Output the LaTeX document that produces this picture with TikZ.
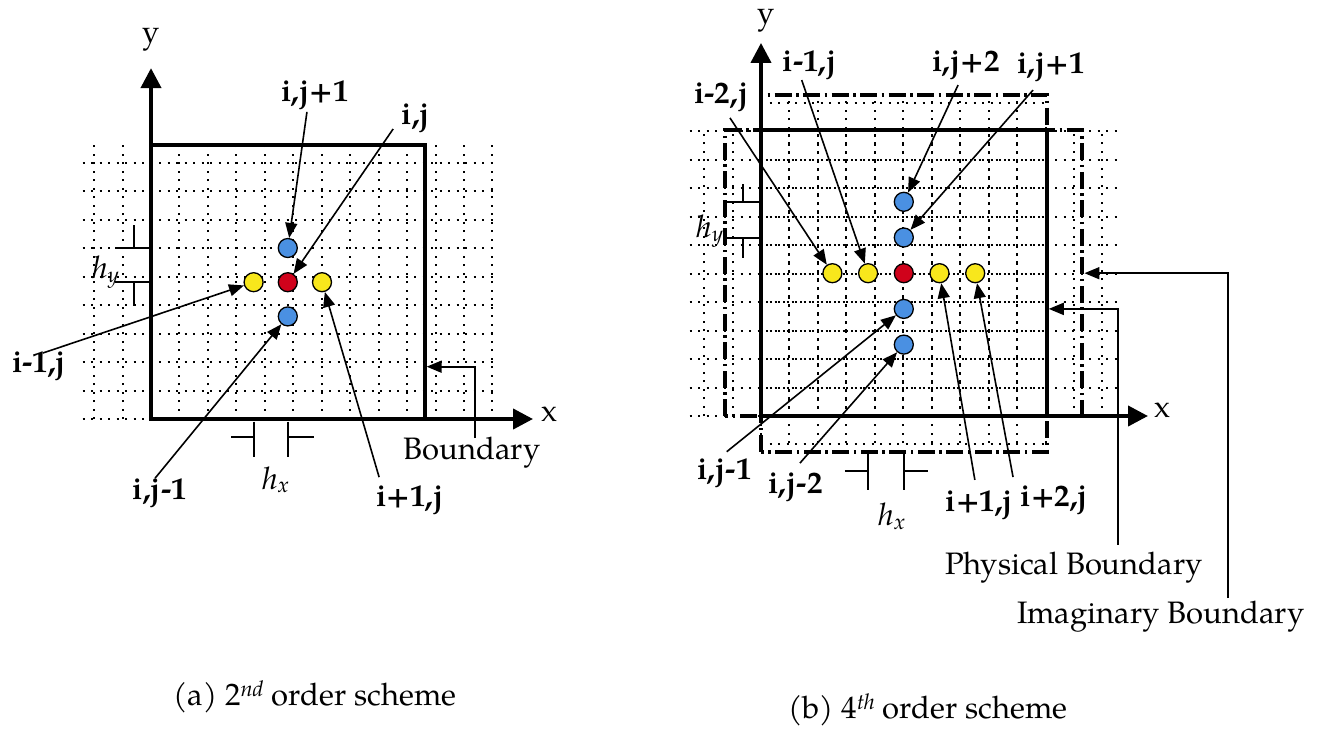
\documentclass[tikz,border=0pt]{standalone}
\usepackage{fontspec}
\setmainfont{texgyrepagella}[Extension=.otf,UprightFont=*-regular,BoldFont=*-bold,ItalicFont=*-italic,BoldItalicFont=*-bolditalic]
\usetikzlibrary{arrows.meta}
\definecolor{ptblue}{RGB}{74,144,226}
\definecolor{ptred}{RGB}{208,2,27}
\definecolor{ptyellow}{RGB}{248,231,28}
\newcommand\lblfont{\fontsize{31}{36}\selectfont}
\tikzset{
 gridl/.style={line width=2pt, dash pattern=on 2pt off 6.5pt},
 axisarrow/.style={line width=4pt, {Triangle[length=20pt,width=20pt]}-{Triangle[length=20pt,width=20pt]}},
 wallline/.style={line width=4pt},
 imag/.style={line width=4pt, dash pattern=on 17pt off 4.5pt on 2.5pt off 4.5pt},
 ptr/.style={line width=1.6pt, -{Triangle[length=15pt,width=12pt]}},
 bptr/.style={line width=1.8pt, -{Triangle[length=15pt,width=12pt]}},
 hmark/.style={line width=2pt},
 dotnode/.style={circle, draw=black, line width=1.3pt, minimum size=19pt, inner sep=0pt},
 lbl/.style={font=\lblfont\bfseries, inner sep=0pt},
 txt/.style={font=\lblfont, inner sep=0pt},
}
\begin{document}
\begin{tikzpicture}[x=1pt,y=-1pt]
\useasboundingbox (0,0) rectangle (1341,731);
% ---------------- left: 2nd order ----------------
\begin{scope}[shift={(151pt,-419pt)}, x=34.2pt, y=34.2pt]
 \draw[gridl] (-2,0) grid (10,8);
 \draw[wallline] (0,8) -- (8,8) -- (8,0);
 \coordinate (LyT) at (0,10.26);
 \coordinate (LO) at (0,0);
 \coordinate (LxT) at (11.17,0);
 \draw[axisarrow] (LyT) -- (LO) -- (LxT);
 \node[txt] (Lylab) at (0,11.08) {y};
 \node[txt] (Lxlab) at (11.64,0.15) {x};
 \node[dotnode, fill=ptred] (Lc) at (4,4) {};
 \node[dotnode, fill=ptblue] (Ln) at (4,5) {};
 \node[dotnode, fill=ptblue] (Ls) at (4,3) {};
 \node[dotnode, fill=ptyellow] (Lw) at (3,4) {};
 \node[dotnode, fill=ptyellow] (Le) at (5,4) {};
 % labels
 \node[lbl] (LlN) at (4.80,9.47) {i,j+1};
 \node[lbl] (LlC) at (7.75,8.80) {i,j};
 \node[lbl] (LlW) at (-3.27,1.55) {i-1,j};
 \node[lbl] (LlS) at (0.26,-2.16) {i,j-1};
 \node[lbl] (LlE) at (7.57,-2.37) {i+1,j};
 \coordinate (LsN) at (4.56,8.98);
 \coordinate (LsC) at (7.08,8.48);
 \coordinate (LsW) at (-3.16,1.93);
 \coordinate (LsS) at (0.12,-1.73);
 \coordinate (LsE) at (6.67,-1.70);
 \draw[ptr] (LsN) -- (Ln);
 \draw[ptr] (LsC) -- (Lc);
 \draw[ptr] (LsW) -- (Lw);
 \draw[ptr] (LsS) -- (Ls);
 \draw[ptr] (LsE) -- (Le);
 % h_y
 \draw[hmark] (-1.05,5) -- (0,5);
 \draw[hmark] (-1.05,4) -- (0,4);
 \draw[hmark] (-0.5,5) -- (-0.5,5.67);
 \draw[hmark] (-0.5,4) -- (-0.5,3.29);
 \node[txt] (Lhy) at (-1.32,4.3) {\textit{h}\textsubscript{\textit{y}}};
 % h_x
 \draw[hmark] (3,-0.08) -- (3,-1.1);
 \draw[hmark] (4,-0.08) -- (4,-1.1);
 \draw[hmark] (2.34,-0.53) -- (3,-0.53);
 \draw[hmark] (4,-0.53) -- (4.77,-0.53);
 \node[txt] (Lhx) at (3.65,-1.78) {\textit{h}\textsubscript{\textit{x}}};
 % boundary
 \coordinate (LbB) at (9.47,-0.56);
 \coordinate (LbK) at (9.47,1.53);
 \coordinate (LbW) at (8.06,1.53);
 \draw[bptr] (LbB) -- (LbK) -- (LbW);
 \node[txt] (Lbt) at (9.39,-0.99) {Boundary};
\end{scope}
% ---------------- right: 4th order ----------------
\begin{scope}[shift={(761pt,-416pt)}, x=35.7pt, y=35.7pt]
 \draw[gridl] (-2,0) grid (10,8);
 \draw[gridl] (0,-1) grid (8,9);
 \draw[imag] (-1,0) rectangle (9,8);
 \draw[imag] (0,-1) rectangle (8,9);
 \draw[wallline] (0,8) -- (8,8) -- (8,0);
 \coordinate (RyT) at (0,10.45);
 \coordinate (RO) at (0,0);
 \coordinate (RxT) at (10.84,0);
 \draw[axisarrow] (RyT) -- (RO) -- (RxT);
 \node[txt] (Rylab) at (0.14,11.08) {y};
 \node[txt] (Rxlab) at (11.26,0.17) {x};
 \node[dotnode, fill=ptred] (Rc) at (4,4) {};
 \node[dotnode, fill=ptyellow] (Rw2) at (2,4) {};
 \node[dotnode, fill=ptyellow] (Rw1) at (3,4) {};
 \node[dotnode, fill=ptyellow] (Re1) at (5,4) {};
 \node[dotnode, fill=ptyellow] (Re2) at (6,4) {};
 \node[dotnode, fill=ptblue] (Rn2) at (4,6) {};
 \node[dotnode, fill=ptblue] (Rn1) at (4,5) {};
 \node[dotnode, fill=ptblue] (Rs1) at (4,3) {};
 \node[dotnode, fill=ptblue] (Rs2) at (4,2) {};
 % labels
 \node[lbl] (RlW2) at (-1.11,8.94) {i-2,j};
 \node[lbl] (RlW1) at (1.37,9.83) {i-1,j};
 \node[lbl] (RlN2) at (5.74,9.83) {i,j+2};
 \node[lbl] (RlN1) at (8.12,9.78) {i,j+1};
 \node[lbl] (RlS1) at (-1.02,-1.6) {i,j-1};
 \node[lbl] (RlS2) at (0.97,-1.99) {i,j-2};
 \node[lbl] (RlE1) at (6.12,-2.49) {i+1,j};
 \node[lbl] (RlE2) at (8.22,-2.35) {i+2,j};
 \coordinate (RsW2) at (-0.87,8.35);
 \coordinate (RsW1) at (1.14,9.41);
 \coordinate (RsN2) at (5.52,9.27);
 \coordinate (RsN1) at (7.62,9.13);
 \coordinate (RsS1) at (-0.96,-1.0);
 \coordinate (RsS2) at (1.09,-1.32);
 \coordinate (RsE1) at (5.99,-1.79);
 \coordinate (RsE2) at (7.06,-1.71);
 \draw[ptr] (RsW2) -- (Rw2);
 \draw[ptr] (RsW1) -- (Rw1);
 \draw[ptr] (RsN2) -- (Rn2);
 \draw[ptr] (RsN1) -- (Rn1);
 \draw[ptr] (RsS1) -- (Rs1);
 \draw[ptr] (RsS2) -- (Rs2);
 \draw[ptr] (RsE1) -- (Re1);
 \draw[ptr] (RsE2) -- (Re2);
 % h_y
 \draw[hmark] (-1,6) -- (0,6);
 \draw[hmark] (-1,5) -- (0,5);
 \draw[hmark] (-0.51,6) -- (-0.51,6.5);
 \draw[hmark] (-0.51,5) -- (-0.51,4.42);
 \node[txt] (Rhy) at (-1.43,5.18) {\textit{h}\textsubscript{\textit{y}}};
 % h_x
 \draw[hmark] (3,-1) -- (3,-2.07);
 \draw[hmark] (4,-1) -- (4,-2.07);
 \draw[hmark] (2.35,-1.55) -- (3,-1.55);
 \draw[hmark] (4,-1.55) -- (4.67,-1.55);
 \node[txt] (Rhx) at (3.67,-2.8) {\textit{h}\textsubscript{\textit{x}}};
 % physical boundary
 \coordinate (RpB) at (10,-3.61);
 \coordinate (RpK) at (10,3);
 \coordinate (RpW) at (8.06,3);
 \draw[bptr] (RpB) -- (RpK) -- (RpW);
 \node[txt] (Rpt) at (8.77,-4.26) {Physical Boundary};
 % imaginary boundary
 \coordinate (RiB) at (13.09,-5.1);
 \coordinate (RiK) at (13.09,4);
 \coordinate (RiW) at (9.06,4);
 \draw[bptr] (RiB) -- (RiK) -- (RiW);
 \node[txt] (Rit) at (11.2,-5.63) {Imaginary Boundary};
\end{scope}
% captions
\node[txt] (capa) at (315,697) {(a) 2\textsuperscript{\textit{nd}} order scheme};
\node[txt] (capb) at (928,710) {(b) 4\textsuperscript{\textit{th}} order scheme};
\end{tikzpicture}
\end{document}
